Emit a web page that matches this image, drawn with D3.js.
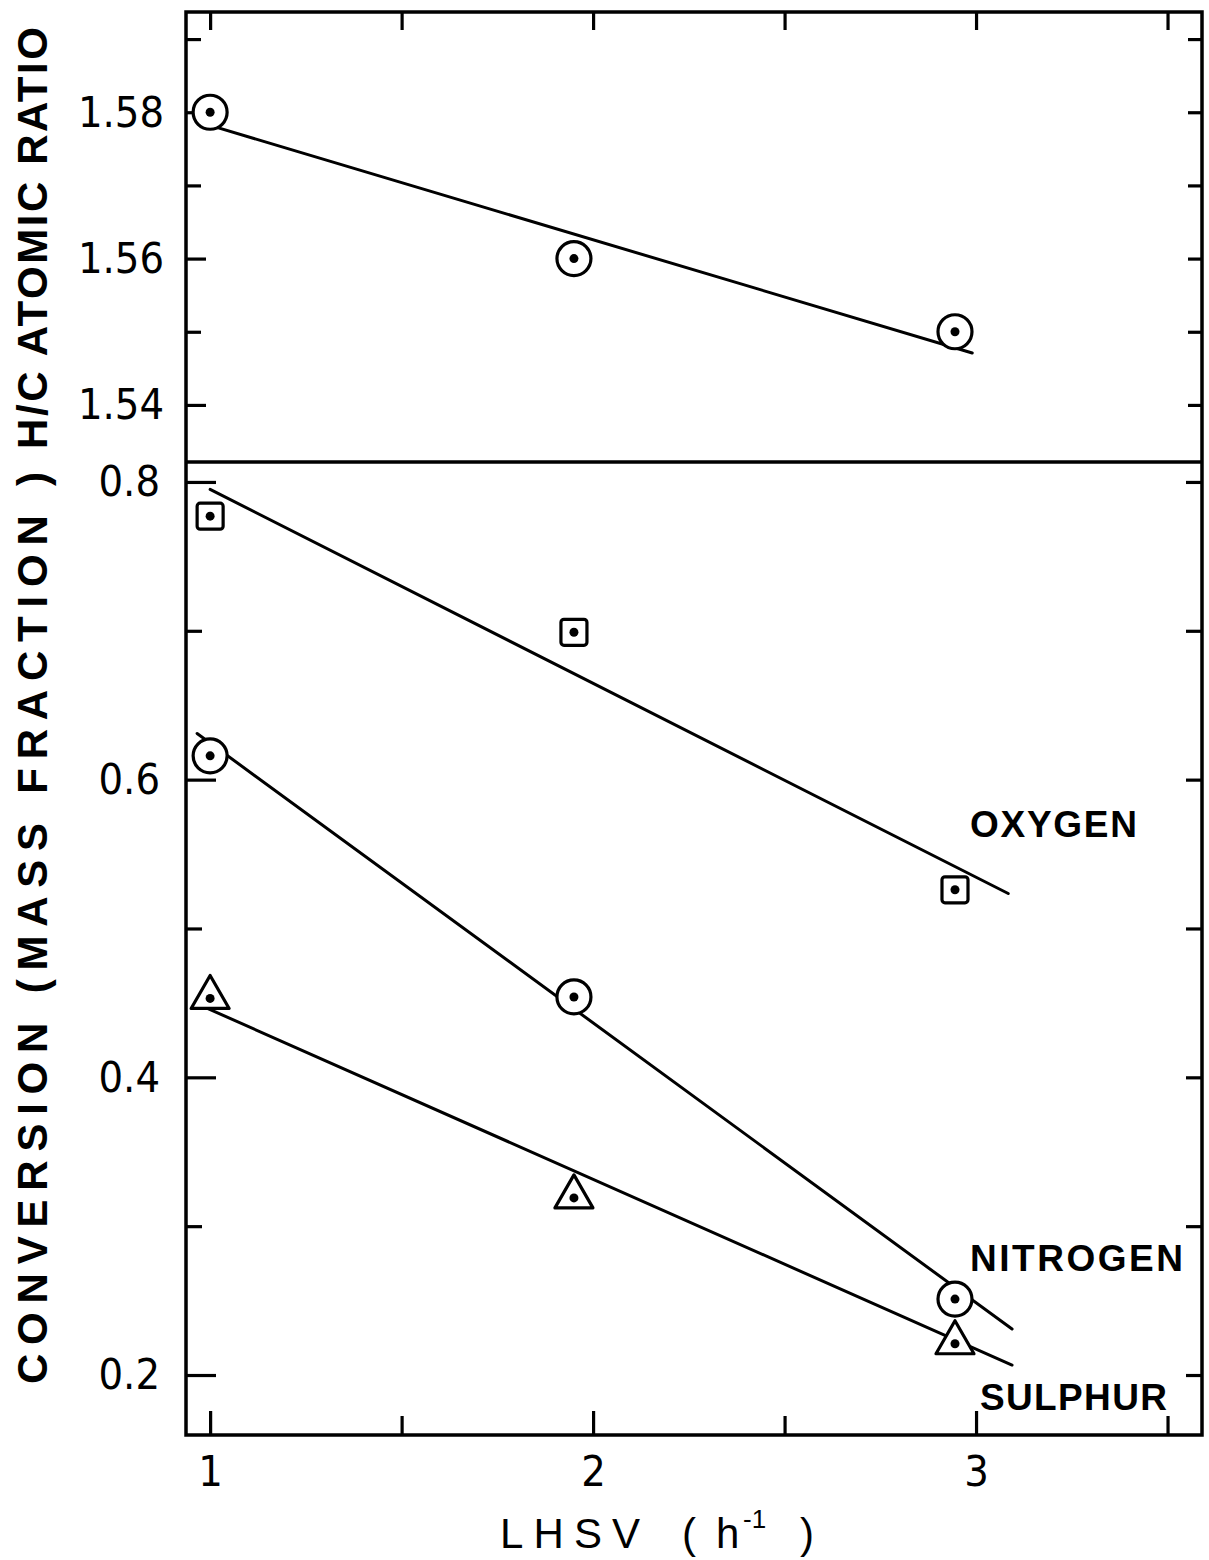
<!DOCTYPE html>
<html>
<head>
<meta charset="utf-8">
<script src="https://cdn.jsdelivr.net/npm/d3@7"></script>
<style>
  body { margin: 0; background: #fff; }
  svg text { font-family: "Liberation Sans", "DejaVu Sans", sans-serif; fill: #000; }
  .num { font-family: "Liberation Sans Narrow", "DejaVu Sans Condensed", "Liberation Sans", sans-serif; font-size: 43px; }
</style>
</head>
<body>
<div id="visDiv"></div>
<script>
(function () {

	// DATA
	var lhsv = [1, 1.95, 2.945];
	var hcRatio = [1.580, 1.560, 1.550];
	var oxygen = [0.777, 0.699, 0.526];
	var nitrogen = [0.616, 0.454, 0.251];
	var sulphur = [0.453, 0.319, 0.221];

	// fitted lines [x0, y0, x1, y1]
	var hcLine = [1.0, 1.5782, 2.99, 1.5471];
	var oxLine = [1.0, 0.795, 3.084, 0.5235];
	var niLine = [0.966, 0.631, 3.094, 0.2309];
	var suLine = [0.987, 0.447, 3.094, 0.2067];

	var xTicks = [1, 2, 3],
		xMinor = [1.5, 2.5, 3.5],
		hcTicks = [1.54, 1.56, 1.58],
		hcMinor = [1.55, 1.57, 1.59],
		convTicks = [0.2, 0.4, 0.6, 0.8],
		convMinor = [0.3, 0.5, 0.7];

	///////////////////////
	// DEFS
	//
	var W = 1209, H = 1560,
		left = 186, right = 1202,
		top = 12, mid = 462, bottom = 1435;

	var svg = d3.select('#visDiv')
		.append('svg')
			.attr('width', W)
			.attr('height', H);

	var x = d3.scaleLinear().domain([0.937, 3.59]).range([left, right]);
	var yHC = d3.scaleLinear().domain([1.5322, 1.5937]).range([mid, top]);
	var yC = d3.scaleLinear().domain([0.1597, 0.8134]).range([bottom, mid]);

	function ticks(g, axis) {
		g.call(axis);
		g.select('.domain').remove();
		g.selectAll('.tick line').attr('stroke', '#000').attr('stroke-width', 3.2);
		g.selectAll('.tick text').attr('class', 'num').attr('font-size', null).attr('font-family', null);
	}

	// left axes
	svg.append('g').attr('transform', 'translate(' + left + ',0)')
		.call(ticks, d3.axisLeft(yHC).tickValues(hcTicks).tickSize(-20).tickPadding(22).tickFormat(d3.format('.2f')));
	svg.append('g').attr('transform', 'translate(' + left + ',0)')
		.call(ticks, d3.axisLeft(yHC).tickValues(hcMinor).tickSize(-15).tickFormat(''));
	svg.append('g').attr('transform', 'translate(' + left + ',0)')
		.call(ticks, d3.axisLeft(yC).tickValues(convTicks).tickSize(-30).tickPadding(26).tickFormat(d3.format('.1f')));
	svg.append('g').attr('transform', 'translate(' + left + ',0)')
		.call(ticks, d3.axisLeft(yC).tickValues(convMinor).tickSize(-16).tickFormat(''));

	// right axes
	svg.append('g').attr('transform', 'translate(' + right + ',0)')
		.call(ticks, d3.axisRight(yHC).tickValues(hcTicks.concat(hcMinor)).tickSize(-14).tickFormat(''));
	svg.append('g').attr('transform', 'translate(' + right + ',0)')
		.call(ticks, d3.axisRight(yC).tickValues(convTicks.concat(convMinor)).tickSize(-16).tickFormat(''));

	// bottom / top axes
	svg.append('g').attr('transform', 'translate(0,' + bottom + ')')
		.call(ticks, d3.axisBottom(x).tickValues(xTicks).tickSize(-24).tickPadding(20).tickFormat(d3.format('d')));
	svg.append('g').attr('transform', 'translate(0,' + bottom + ')')
		.call(ticks, d3.axisBottom(x).tickValues(xMinor).tickSize(-19).tickFormat(''));
	svg.append('g').attr('transform', 'translate(0,' + top + ')')
		.call(ticks, d3.axisTop(x).tickValues(xTicks.concat(xMinor)).tickSize(-18).tickFormat(''));

	// frame + divider
	svg.append('rect')
		.attr('x', left).attr('y', top)
		.attr('width', right - left).attr('height', bottom - top)
		.attr('fill', 'none').attr('stroke', '#000').attr('stroke-width', 3.5);
	svg.append('line')
		.attr('x1', left).attr('x2', right)
		.attr('y1', mid).attr('y2', mid)
		.attr('stroke', '#000').attr('stroke-width', 3.5);

	// fitted lines
	function fit(l, y) {
		svg.append('line')
			.attr('x1', x(l[0])).attr('y1', y(l[1]))
			.attr('x2', x(l[2])).attr('y2', y(l[3]))
			.attr('stroke', '#000').attr('stroke-width', 3)
			.attr('stroke-linecap', 'round');
	}
	fit(hcLine, yHC);
	fit(oxLine, yC);
	fit(niLine, yC);
	fit(suLine, yC);

	// markers
	function markers(vals, y, shape) {
		var g = svg.append('g').selectAll('g')
			.data(vals.map(function (v, i) { return {x: lhsv[i], y: v}; }))
			.enter().append('g')
				.attr('transform', function (d) { return 'translate(' + x(d.x) + ',' + y(d.y) + ')'; });
		if (shape === 'circle') {
			g.append('circle').attr('r', 17);
		} else if (shape === 'square') {
			g.append('rect').attr('x', -13).attr('y', -13).attr('width', 26).attr('height', 26).attr('rx', 3);
		} else {
			g.append('path').attr('d', 'M0,-23L19,10L-19,10Z').attr('stroke-linejoin', 'round');
		}
		g.selectAll('circle,rect,path').attr('fill', '#fff').attr('stroke', '#000').attr('stroke-width', 3.2);
		g.append('circle').attr('r', 4.5).attr('fill', '#000');
	}
	markers(hcRatio, yHC, 'circle');
	markers(oxygen, yC, 'square');
	markers(nitrogen, yC, 'circle');
	markers(sulphur, yC, 'triangle');

	// series labels
	function label(t, x0, yb, len) {
		svg.append('text')
			.attr('x', x0).attr('y', yb)
			.attr('font-size', 37)
			.attr('font-weight', 'bold')
			.attr('textLength', len)
			.attr('lengthAdjust', 'spacing')
			.text(t);
	}
	label('OXYGEN', 970, 837, 167);
	label('NITROGEN', 970, 1271, 213);
	label('SULPHUR', 980, 1410, 187);

	// axis titles
	svg.append('text')
		.attr('transform', 'translate(47,238) rotate(-90)')
		.attr('text-anchor', 'middle')
		.attr('font-size', 42)
		.attr('font-weight', 'bold')
		.attr('textLength', 422)
		.attr('lengthAdjust', 'spacing')
		.text('H/C ATOMIC RATIO');
	svg.append('text')
		.attr('transform', 'translate(47,928) rotate(-90)')
		.attr('text-anchor', 'middle')
		.attr('font-size', 42)
		.attr('font-weight', 'bold')
		.attr('textLength', 912)
		.attr('lengthAdjust', 'spacing')
		.text('CONVERSION  (MASS FRACTION )');

	var xt = svg.append('text')
		.attr('y', 1548)
		.attr('font-size', 42);
	xt.append('tspan').attr('x', 500).attr('textLength', 140).attr('lengthAdjust', 'spacing').text('LHSV');
	xt.append('tspan').attr('x', 682).text('(');
	xt.append('tspan').attr('x', 716).text('h');
	xt.append('tspan').attr('x', 743).attr('dy', -20).attr('font-size', 26).text('-1');
	xt.append('tspan').attr('x', 800).attr('dy', 20).text(')');

}());
</script>
</body>
</html>
